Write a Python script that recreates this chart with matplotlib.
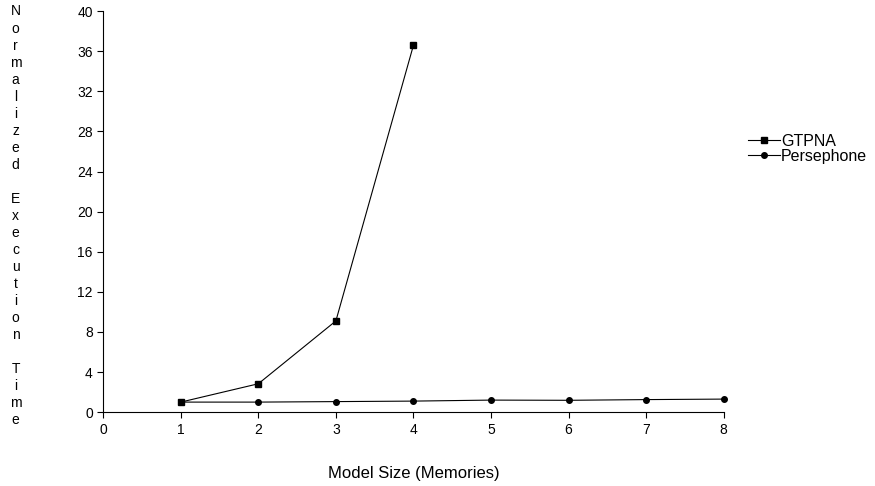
import matplotlib
matplotlib.use("Agg")
import matplotlib.pyplot as plt

plt.rcParams["font.family"] = ["Liberation Sans", "DejaVu Sans"]

gtpna_x = [1, 2, 3, 4]
gtpna_y = [1.0, 2.83, 9.1, 36.6]
pers_x = [1, 2, 3, 4, 5, 6, 7, 8]
pers_y = [1.0, 1.0, 1.05, 1.1, 1.2, 1.18, 1.25, 1.3]
x_ticks = list(range(0, 9))
y_ticks = list(range(0, 41, 4))

fig = plt.figure(figsize=(8.75, 4.86), dpi=100)
ax = fig.add_axes([0.118, 0.152, 0.709, 0.825])

ax.plot(gtpna_x, gtpna_y, "-", color="black", lw=0.8, marker="s", ms=5,
        label="GTPNA", clip_on=False)
ax.plot(pers_x, pers_y, "-", color="black", lw=0.8, marker="o", ms=4,
        label="Persephone", clip_on=False)

ax.set_xlim(0, 8)
ax.set_ylim(0, 40)
ax.set_xticks(x_ticks)
ax.set_yticks(y_ticks)
ax.tick_params(labelsize=10, length=4, width=0.8, direction="out")
for s in ("top", "right"):
    ax.spines[s].set_visible(False)
for s in ("left", "bottom"):
    ax.spines[s].set_linewidth(0.8)

ax.set_xlabel("Model Size (Memories)", fontsize=12, labelpad=21)

# stacked letters, one per line, as in the original
label = "Normalized Execution Time"
fig.text(0.018, 0.556, "\n".join(label), fontsize=10, ha="center", va="center",
         linespacing=1.275)

fig.legend(loc="center left", bbox_to_anchor=(0.855, 0.694), frameon=False,
           fontsize=11.5, handlelength=2.0, handletextpad=0.05,
           labelspacing=0.0, borderpad=0, borderaxespad=0)

fig.savefig("out.png", dpi=100)
